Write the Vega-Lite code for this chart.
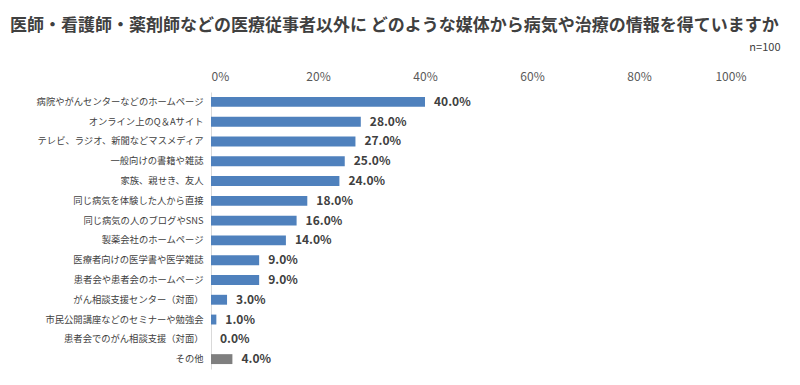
{
  "$schema": "https://vega.github.io/schema/vega-lite/v6.json",
  "autosize": {"type": "none"},
  "width": 535,
  "height": 277,
  "padding": {"left": 211, "top": 92, "right": 54, "bottom": 16},
  "background": "white",
  "config": {
    "view": {"stroke": null},
    "font": "Noto Sans CJK JP"
  },
  "title": {
    "text": "医師・看護師・薬剤師などの医療従事者以外に どのような媒体から病気や治療の情報を得ていますか",
    "anchor": "start",
    "frame": "group",
    "dx": -201,
    "offset": 6,
    "fontSize": 17,
    "fontWeight": "bold",
    "color": "#404040",
    "font": "Noto Sans CJK JP"
  },
  "data": {
    "values": [
      {"item": "病院やがんセンターなどのホームページ", "pct": 0.40, "group": "main"},
      {"item": "オンライン上のQ＆Aサイト", "pct": 0.28, "group": "main"},
      {"item": "テレビ、ラジオ、新聞などマスメディア", "pct": 0.27, "group": "main"},
      {"item": "一般向けの書籍や雑誌", "pct": 0.25, "group": "main"},
      {"item": "家族、親せき、友人", "pct": 0.24, "group": "main"},
      {"item": "同じ病気を体験した人から直接", "pct": 0.18, "group": "main"},
      {"item": "同じ病気の人のブログやSNS", "pct": 0.16, "group": "main"},
      {"item": "製薬会社のホームページ", "pct": 0.14, "group": "main"},
      {"item": "医療者向けの医学書や医学雑誌", "pct": 0.09, "group": "main"},
      {"item": "患者会や患者会のホームページ", "pct": 0.09, "group": "main"},
      {"item": "がん相談支援センター（対面）", "pct": 0.03, "group": "main"},
      {"item": "市民公開講座などのセミナーや勉強会", "pct": 0.01, "group": "main"},
      {"item": "患者会でのがん相談支援（対面）", "pct": 0.0, "group": "main"},
      {"item": "その他", "pct": 0.04, "group": "other"}
    ]
  },
  "encoding": {
    "y": {
      "field": "item",
      "type": "nominal",
      "sort": null,
      "scale": {"paddingInner": 0.5, "paddingOuter": 0.25},
      "axis": {
        "title": null,
        "ticks": false,
        "domain": true,
        "domainColor": "#d9d9d9",
        "domainWidth": 1,
        "labelFontSize": 9.3,
        "labelColor": "#404040",
        "labelPadding": 8,
        "labelFont": "Noto Sans CJK JP",
        "labelLimit": 250
      }
    },
    "x": {
      "field": "pct",
      "type": "quantitative",
      "scale": {"domain": [0, 1]},
      "axis": {
        "orient": "top",
        "values": [0, 0.2, 0.4, 0.6, 0.8, 1],
        "format": ".0%",
        "grid": false,
        "ticks": false,
        "domain": false,
        "labelFontSize": 12,
        "labelColor": "#595959",
        "labelPadding": 9,
        "labelFont": "Noto Sans CJK JP",
        "title": "n=100",
        "titleFontSize": 11,
        "titleFontWeight": "normal",
        "titleColor": "#404040",
        "titleAnchor": "end",
        "titleAlign": "right",
        "titleBaseline": "middle",
        "titleX": 569,
        "titleY": -45
      }
    }
  },
  "layer": [
    {
      "mark": {"type": "bar"},
      "encoding": {
        "color": {
          "field": "group",
          "type": "nominal",
          "scale": {"domain": ["main", "other"], "range": ["#4F81BD", "#7F7F7F"]},
          "legend": null
        }
      }
    },
    {
      "mark": {"type": "text", "align": "left", "baseline": "middle", "dx": 9, "fontSize": 12, "fontWeight": "bold", "color": "#404040", "font": "Noto Sans CJK JP"},
      "encoding": {
        "text": {"field": "pct", "type": "quantitative", "format": ".1%"}
      }
    }
  ]
}
